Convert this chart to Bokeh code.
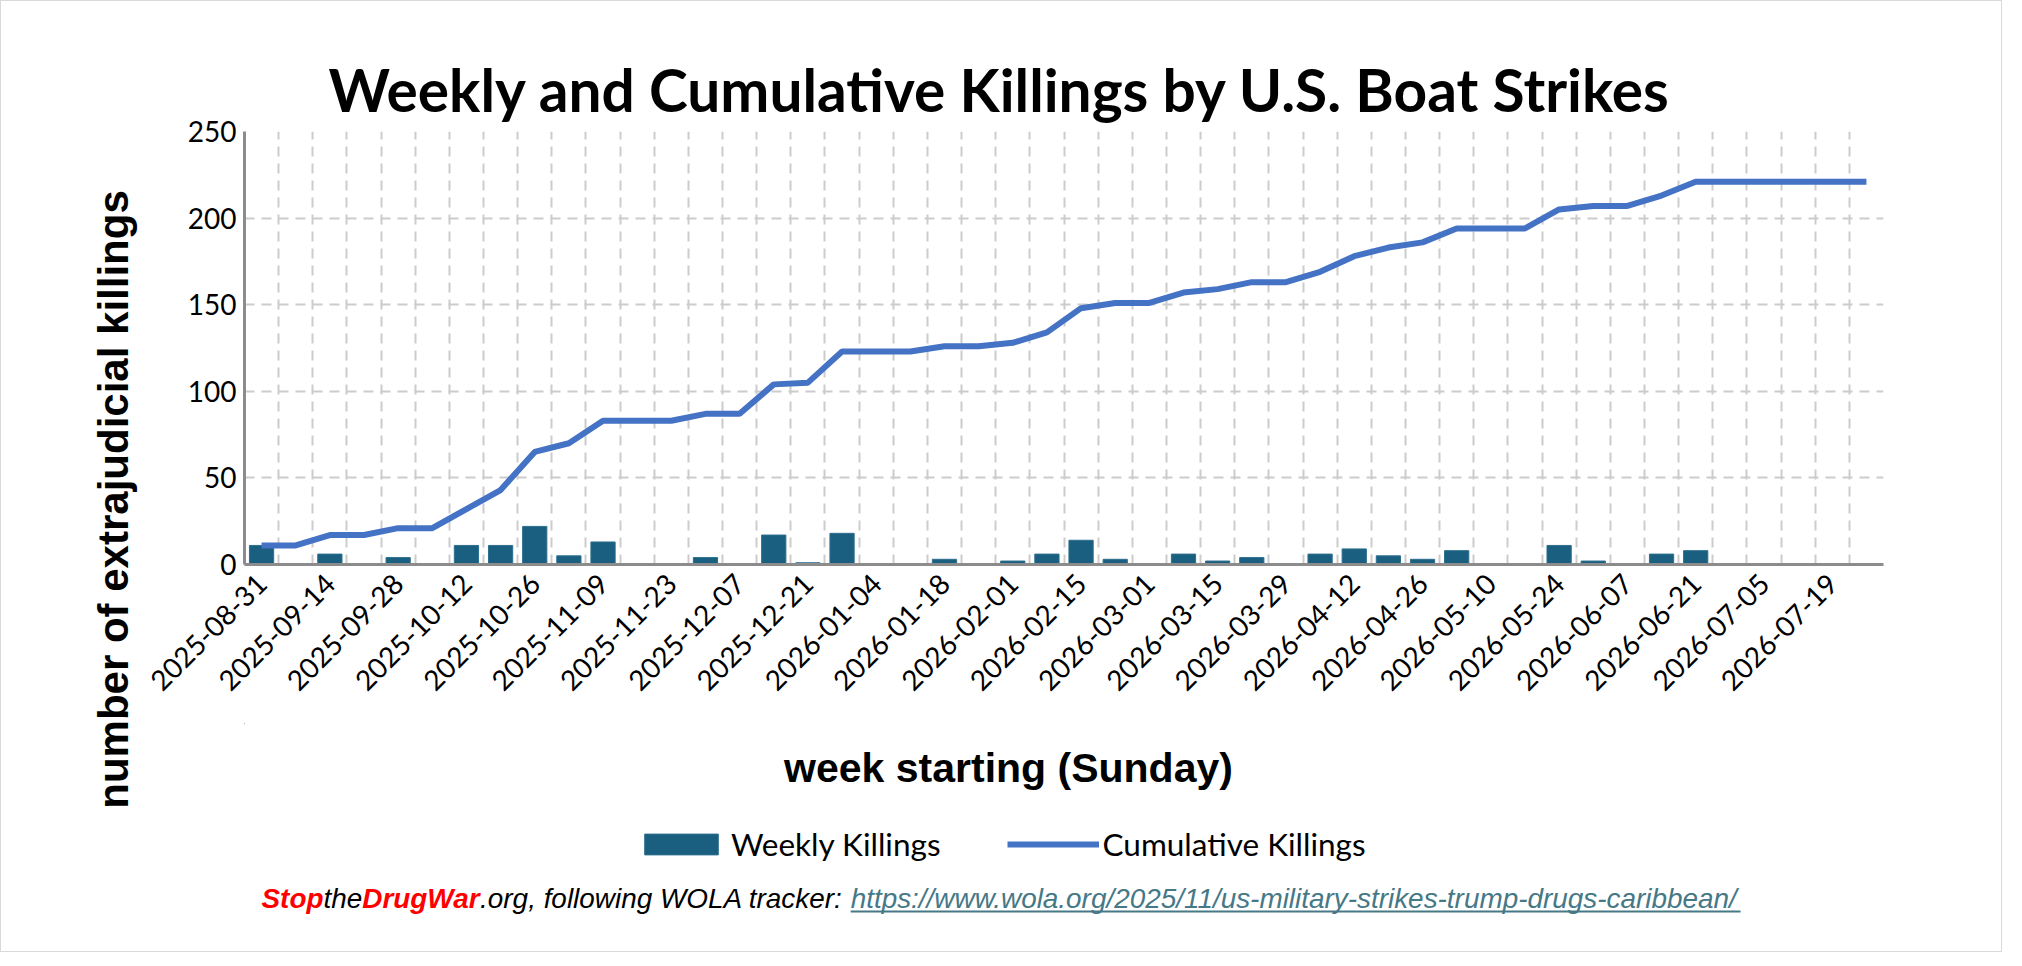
import math
from bokeh.plotting import figure
from bokeh.layouts import row, column
from bokeh.models import (Range1d, FixedTicker, Label, Legend, LegendItem,
                          BoxAnnotation, ColumnDataSource, Title)
from bokeh.embed import file_html
from bokeh.resources import INLINE

# ---------------- data ----------------
weeks = [
    "2025-08-31", "2025-09-07", "2025-09-14", "2025-09-21", "2025-09-28",
    "2025-10-05", "2025-10-12", "2025-10-19", "2025-10-26", "2025-11-02",
    "2025-11-09", "2025-11-16", "2025-11-23", "2025-11-30", "2025-12-07",
    "2025-12-14", "2025-12-21", "2025-12-28", "2026-01-04", "2026-01-11",
    "2026-01-18", "2026-01-25", "2026-02-01", "2026-02-08", "2026-02-15",
    "2026-02-22", "2026-03-01", "2026-03-08", "2026-03-15", "2026-03-22",
    "2026-03-29", "2026-04-05", "2026-04-12", "2026-04-19", "2026-04-26",
    "2026-05-03", "2026-05-10", "2026-05-17", "2026-05-24", "2026-05-31",
    "2026-06-07", "2026-06-14", "2026-06-21", "2026-06-28", "2026-07-05",
    "2026-07-12", "2026-07-19", "2026-07-26",
]
weekly_killings = [
    11, 0, 6, 0, 4, 0, 11, 11, 22, 5,
    13, 0, 0, 4, 0, 17, 1, 18, 0, 0,
    3, 0, 2, 6, 14, 3, 0, 6, 2, 4,
    0, 6, 9, 5, 3, 8, 0, 0, 11, 2,
    0, 6, 8, 0, 0, 0, 0, 0,
]
cumulative_killings = [
    11, 11, 17, 17, 21, 21, 32, 43, 65, 70,
    83, 83, 83, 87, 87, 104, 105, 123, 123, 123,
    126, 126, 128, 134, 148, 151, 151, 157, 159, 163,
    163, 169, 178, 183, 186, 194, 194, 194, 205, 207,
    207, 213, 221, 221, 221, 221, 221, 221,
]
y_ticks = [0, 50, 100, 150, 200, 250]

title_text = "Weekly and Cumulative Killings by U.S. Boat Strikes"
y_title = "number of extrajudicial killings"
x_title = "week starting (Sunday)"
legend_labels = ["Weekly Killings", "Cumulative Killings"]
source_parts = [
    ("Stop", "bold italic", "#ff0000"),
    ("the", "italic", "#000000"),
    ("DrugWar", "bold italic", "#ff0000"),
    (".org, following WOLA tracker: ", "italic", "#000000"),
    ("https://www.wola.org/2025/11/us-military-strikes-trump-drugs-caribbean/", "italic", "#467886"),
]

BAR_FILL = "#1A5F80"
BAR_LINE = "#2D6F8E"
LINE_COL = "#4472C4"

# ---------------- layout (page pixels) ----------------
PAGE0 = 8
LEFT_W = 140                      # strip with the rotated y title
RIGHT_W = 1860
X0 = PAGE0 + LEFT_W               # page x where right column starts
FRAME_L, FRAME_R = 251, 1890      # page x of plot frame
FRAME_T, FRAME_B = 138, 571       # page y of plot frame
B_LEFT = FRAME_L - X0
B_RIGHT = RIGHT_W - (FRAME_R - X0)
MAIN_H = 722
BOT_TOP = PAGE0 + MAIN_H
BOT_H = 228
TOTAL_H = MAIN_H + BOT_H


def strip(width, height, page_top, x_lo, x_hi, bl, br):
    # a text strip whose data coordinates are page pixels (y negated)
    f = figure(width=width, height=height,
               x_range=Range1d(x_lo, x_hi),
               y_range=Range1d(-(page_top + height), -page_top),
               output_backend="svg", toolbar_location=None,
               x_axis_location=None, y_axis_location=None,
               min_border_left=bl, min_border_right=br,
               min_border_top=0, min_border_bottom=0,
               outline_line_color=None)
    f.grid.visible = False
    f.background_fill_color = "white"
    f.border_fill_color = "white"
    return f


# ---------------- main chart ----------------
idx = list(range(len(weeks)))
src = ColumnDataSource(dict(x=idx, week=weeks, weekly=weekly_killings, cum=cumulative_killings))

p = figure(width=RIGHT_W, height=MAIN_H, output_backend="svg", toolbar_location=None,
           x_range=Range1d(-0.5, len(weeks) - 0.5), y_range=Range1d(0, 250),
           min_border_left=B_LEFT, min_border_right=B_RIGHT,
           min_border_top=FRAME_T - PAGE0, min_border_bottom=BOT_TOP - FRAME_B)
p.title = Title(text=title_text, align="left", offset=84, standoff=16,
                text_font="Lato", text_font_style="bold", text_font_size="58.6px",
                text_color="#000000")
p.outline_line_color = None
p.background_fill_color = "white"
p.border_fill_color = "white"

p.xaxis.ticker = FixedTicker(ticks=idx[::2])
p.xaxis.major_label_overrides = {i: weeks[i] for i in idx[::2]}
p.xaxis.major_label_orientation = math.pi / 4
p.yaxis.ticker = FixedTicker(ticks=y_ticks)
for ax in (p.xaxis, p.yaxis):
    ax.axis_line_color = "#8c8c8c"
    ax.axis_line_width = 3
    ax.major_tick_line_color = None
    ax.minor_tick_line_color = None
    ax.major_tick_out = 0
    ax.major_tick_in = 0
    ax.minor_tick_out = 0
    ax.minor_tick_in = 0
    ax.major_label_text_font = "Lato"
    ax.major_label_text_font_size = "28px"
    ax.major_label_text_color = "#000000"
p.xaxis.major_label_standoff = 14
p.yaxis.major_label_standoff = 8

p.xgrid.ticker = FixedTicker(ticks=[i + 0.5 for i in idx])
p.ygrid.ticker = FixedTicker(ticks=y_ticks)
for g in (p.xgrid, p.ygrid):
    g.grid_line_color = "#cccccc"
    g.grid_line_width = 2
    g.grid_line_dash = "10 7"

p.vbar(x="x", top="weekly", width=0.71, source=src,
       fill_color=BAR_FILL, line_color=BAR_LINE, line_width=1)
p.line(x="x", y="cum", source=src, line_color=LINE_COL, line_width=6)

# ---------------- left strip (y title) ----------------
left = strip(LEFT_W, TOTAL_H, PAGE0, PAGE0, X0, 0, 0)
left.add_layout(Label(x=120, y=-506, text=y_title, angle=math.pi / 2,
                      text_font="Liberation Sans", text_font_style="bold",
                      text_font_size="42px", text_align="center",
                      text_baseline="middle", text_color="#000000"))

# ---------------- bottom strip ----------------
bot = strip(RIGHT_W, BOT_H, BOT_TOP, FRAME_L, FRAME_R, B_LEFT, B_RIGHT)
bot.add_layout(Label(x=1015, y=-774, text=x_title, text_font="Liberation Sans",
                     text_font_style="bold", text_font_size="41px",
                     text_align="center", text_baseline="middle",
                     text_color="#000000"))

# legend swatches: renderers styled like the chart glyphs, kept off-screen
swatch = ColumnDataSource(dict(x=[0, 0], top=[0, 0], y=[0, 0]))
lb = bot.vbar(x="x", top="top", width=1, source=swatch,
              fill_color=BAR_FILL, line_color=BAR_LINE, line_width=1)
ll = bot.line(x="x", y="y", source=swatch, line_color=LINE_COL, line_width=6)
legend = Legend(items=[LegendItem(label=legend_labels[0], renderers=[lb]),
                       LegendItem(label=legend_labels[1], renderers=[ll])],
                orientation="horizontal", location=(642 - FRAME_L, 88),
                glyph_width=92, glyph_height=26, label_standoff=4, spacing=66,
                padding=0, margin=0, border_line_color=None,
                background_fill_alpha=0,
                label_text_font="Lato", label_text_font_size="31.5px",
                label_text_color="#000000")
bot.add_layout(legend)

# source line: Arial / Liberation Sans advance widths (per 1000 em)
REG = {" ": 278, "(": 333, ")": 333, ",": 278, "-": 333, ".": 278, "/": 278, ":": 278,
       "A": 667, "L": 556, "O": 778, "W": 944, "S": 667, "D": 722,
       "a": 556, "b": 556, "c": 500, "d": 556, "e": 556, "f": 278, "g": 556, "h": 556,
       "i": 222, "j": 222, "k": 500, "l": 222, "m": 833, "n": 556, "o": 556, "p": 556,
       "r": 333, "s": 500, "t": 278, "u": 556, "v": 500, "w": 722, "x": 500, "y": 500}
BOLD = {"S": 667, "t": 333, "o": 611, "p": 611, "D": 722, "r": 389, "u": 611,
        "g": 611, "W": 944, "a": 556}
FS = 27.9
sx, sy = 268, 905
for text, style, color in source_parts:
    table = BOLD if "bold" in style else REG
    w = sum(table.get(ch, 556) for ch in text) * FS / 1000.0
    bot.add_layout(Label(x=sx, y=-sy, text=text, text_font="Liberation Sans",
                         text_font_style=style, text_font_size=f"{FS}px",
                         text_align="left", text_baseline="middle",
                         text_color=color))
    if color == "#467886":
        bot.add_layout(BoxAnnotation(left=sx, right=sx + w, top=-(sy + 12), bottom=-(sy + 14),
                                     fill_color=color, fill_alpha=1, line_color=None))
    sx += w

layout = row(left, column(p, bot))
layout.styles = {"border": "1.5px solid #d9d9d9"}

open("out.html", "w").write(file_html(layout, INLINE))
